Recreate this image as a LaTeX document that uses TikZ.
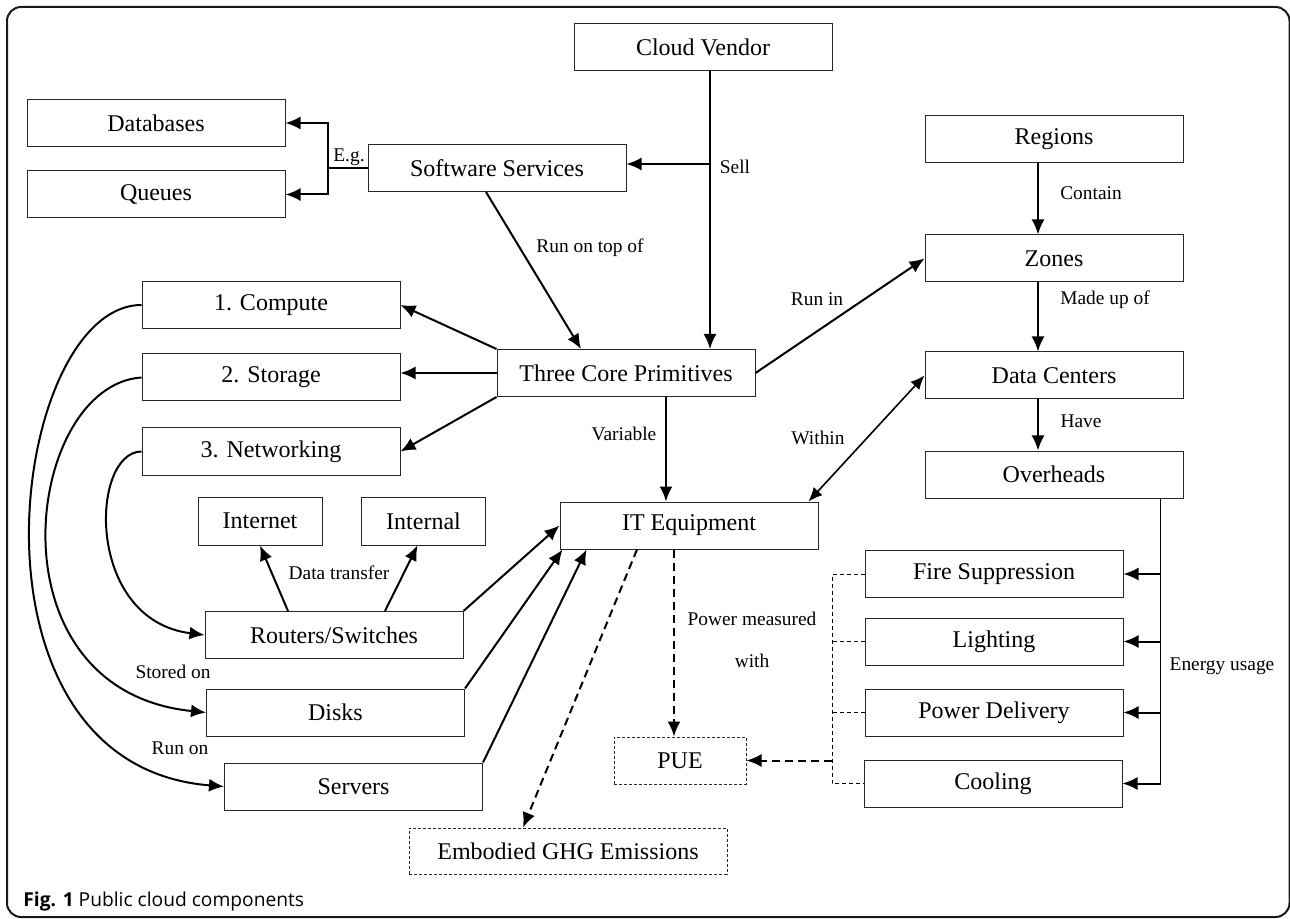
\documentclass[tikz,border=0pt]{standalone}
\usepackage{fontspec}
\setmainfont{Liberation Serif}
\newfontfamily\lblfont{Liberation Serif}
\newfontfamily\capfont{Open Sans}
\usetikzlibrary{arrows.meta}
\tikzset{
  box/.style={draw=black!85, line width=0.5pt, minimum width=129pt, minimum height=23.5pt, inner sep=0pt, font=\lblfont\fontsize{12}{14}\selectfont},
  dbox/.style={box, dash pattern=on 1.5pt off 1pt},
  lbl/.style={font=\lblfont\fontsize{9.7}{11.5}\selectfont, inner sep=1pt},
  link/.style={line width=1pt},
  arr/.style={line width=1pt, -{Latex[length=7.5pt,width=6.5pt]}},
  barr/.style={line width=0.8pt, {Latex[length=7pt,width=6pt]}-{Latex[length=7pt,width=6pt]}},
  darr/.style={arr, dash pattern=on 4pt off 2.5pt},
  thinline/.style={line width=0.5pt},
  thindash/.style={line width=0.5pt, dash pattern=on 2pt off 1.5pt},
}
\begin{document}
\begin{tikzpicture}[x=0.5pt, y=-0.5pt]
                \useasboundingbox (0,0) rectangle (1290,919);
                \draw[line width=1pt, rounded corners=7pt, black!90] (7,7) rectangle (1289.5,917);
                % boxes
                \node[box] (vendor) at (703,47) {Cloud Vendor};
                \node[box] (software) at (497,168) {Software Services};
                \node[box] (db) at (156,123) {Databases};
                \node[box] (queues) at (156,194.5) {Queues};
                \node[box] (primitives) at (626,373) {Three Core Primitives};
                \node[box] (compute) at (271,305) {1. Compute};
                \node[box] (storage) at (271,377.5) {2. Storage};
                \node[box] (networking) at (271,451.5) {3. Networking};
                \node[box] (regions) at (1054,139.5) {Regions};
                \node[box] (zones) at (1054,258.5) {Zones};
                \node[box] (datacenters) at (1054,375.5) {Data Centers};
                \node[box] (overheads) at (1054,474.5) {Overheads};
                \node[box] (itequip) at (689,525.5) {IT Equipment};
                \node[box, minimum width=62pt, minimum height=24pt] (internet) at (260,521) {Internet};
                \node[box, minimum width=62pt, minimum height=24pt] (internal) at (423.5,521) {Internal};
                \node[box] (routers) at (334,635) {Routers/Switches};
                \node[box] (disks) at (335.5,712.5) {Disks};
                \node[box] (servers) at (353.5,786.5) {Servers};
                \node[box] (fire) at (994,574) {Fire Suppression};
                \node[box] (lighting) at (994,641.5) {Lighting};
                \node[box] (powerdel) at (994,712.5) {Power Delivery};
                \node[box] (cooling) at (993,783.5) {Cooling};
                \node[dbox, minimum width=66pt] (pue) at (680,760.5) {PUE};
                \node[dbox, minimum width=159pt, minimum height=23pt] (ghg) at (568,851) {Embodied GHG Emissions};
                % top part
                \coordinate (sell) at (710,164);
                \coordinate (eg) at (328,168);
                \draw[arr] (sell |- vendor.south) -- (sell |- primitives.north);
                \draw[arr] (sell) -- (software.east |- sell);
                \draw[link] (software.west) -- (eg);
                \draw[arr] (eg) |- (db.east);
                \draw[arr] (eg) |- (queues.east);
                \draw[arr] ([xshift=-5.5pt]software.south) -- ([xshift=-22.5pt]primitives.north);
                \draw[arr] (primitives.north west) -- (compute.east);
                \draw[arr] (primitives.west) -- (primitives.west -| storage.east);
                \draw[arr] (primitives.south west) -- (networking.east);
                \draw[arr] (primitives.east) -- (zones.west);
                \draw[arr] ([xshift=20pt]primitives.south) -- ([xshift=20pt]primitives.south |- itequip.north);
                \draw[arr] ([xshift=-8pt]regions.south) -- ([xshift=-8pt]zones.north);
                \draw[arr] ([xshift=-8pt]zones.south) -- ([xshift=-8pt]datacenters.north);
                \draw[arr] ([xshift=-8pt]datacenters.south) -- ([xshift=-8pt]overheads.north);
                \draw[barr] (datacenters.west) -- ([xshift=-5pt]itequip.north east);
                % left curves
                \draw[arr] (compute.west) .. controls (10,305) and (-50,765) .. (servers.west);
                \draw[arr] (storage.west) .. controls (25,385) and (-15,690) .. (disks.west);
                \draw[arr] (networking.west) .. controls (90,452) and (85,620) .. (routers.west);
                \draw[arr] ([xshift=-23pt]routers.north) -- (internet.south);
                \draw[arr] ([xshift=25.5pt]routers.north) -- ([xshift=-3pt]internal.south);
                \draw[arr] (routers.north east) -- (itequip.west);
                \draw[arr] (disks.north east) -- ([xshift=1.5pt]itequip.south west);
                \draw[arr] (servers.north east) -- ([xshift=13.5pt]itequip.south west);
                % overheads
                \coordinate (ebus) at ([xshift=-11.5pt]overheads.south east);
                \draw[thinline] (ebus) -- (ebus |- cooling.east);
                \draw[arr] (ebus |- fire.east) -- (fire.east);
                \draw[arr] (ebus |- lighting.east) -- (lighting.east);
                \draw[arr] (ebus |- powerdel.east) -- (powerdel.east);
                \draw[arr] (ebus |- cooling.east) -- (cooling.east);
                \coordinate (pbus) at (832,574);
                \draw[thindash] (fire.west) -- (pbus |- fire.west) -- (pbus |- cooling.west) -- (cooling.west);
                \draw[thindash] (lighting.west) -- (pbus |- lighting.west);
                \draw[thindash] (powerdel.west) -- (pbus |- powerdel.west);
                \draw[darr] (pbus |- pue.east) -- (pue.east);
                \draw[darr] ([xshift=-7.5pt]itequip.south) -- ([xshift=-7.5pt]itequip.south |- pue.north);
                \draw[darr] ([xshift=-26pt]itequip.south) -- ([xshift=-22.5pt]ghg.north);
                % labels
                \node[lbl] (lsell) at (735,167) {Sell};
                \node[lbl] (leg) at (349,157) {E.g.};
                \node[lbl] (ltop) at (590,248) {Run on top of};
                \node[lbl] (lrunin) at (817,299) {Run in};
                \node[lbl] (lcontain) at (1091,193) {Contain};
                \node[lbl] (lmade) at (1105,300) {Made up of};
                \node[lbl] (lhave) at (1081,421) {Have};
                \node[lbl] (lwithin) at (818,438) {Within};
                \node[lbl] (lvar) at (624,434) {Variable};
                \node[lbl] (ltransfer) at (339,573) {Data transfer};
                \node[lbl, align=center] (lpower) at (752,640) {Power measured\\[9.5pt]with};
                \node[lbl] (lenergy) at (1222,666) {Energy usage};
                \node[lbl] (lstored) at (173,672) {Stored on};
                \node[lbl] (lrunon) at (180,748) {Run on};
                \node[anchor=west, inner sep=0pt, font=\capfont\fontsize{9.6}{11}\selectfont] (caption) at (23,902) {\textbf{Fig. 1} Public cloud components};

\end{tikzpicture}
\end{document}
